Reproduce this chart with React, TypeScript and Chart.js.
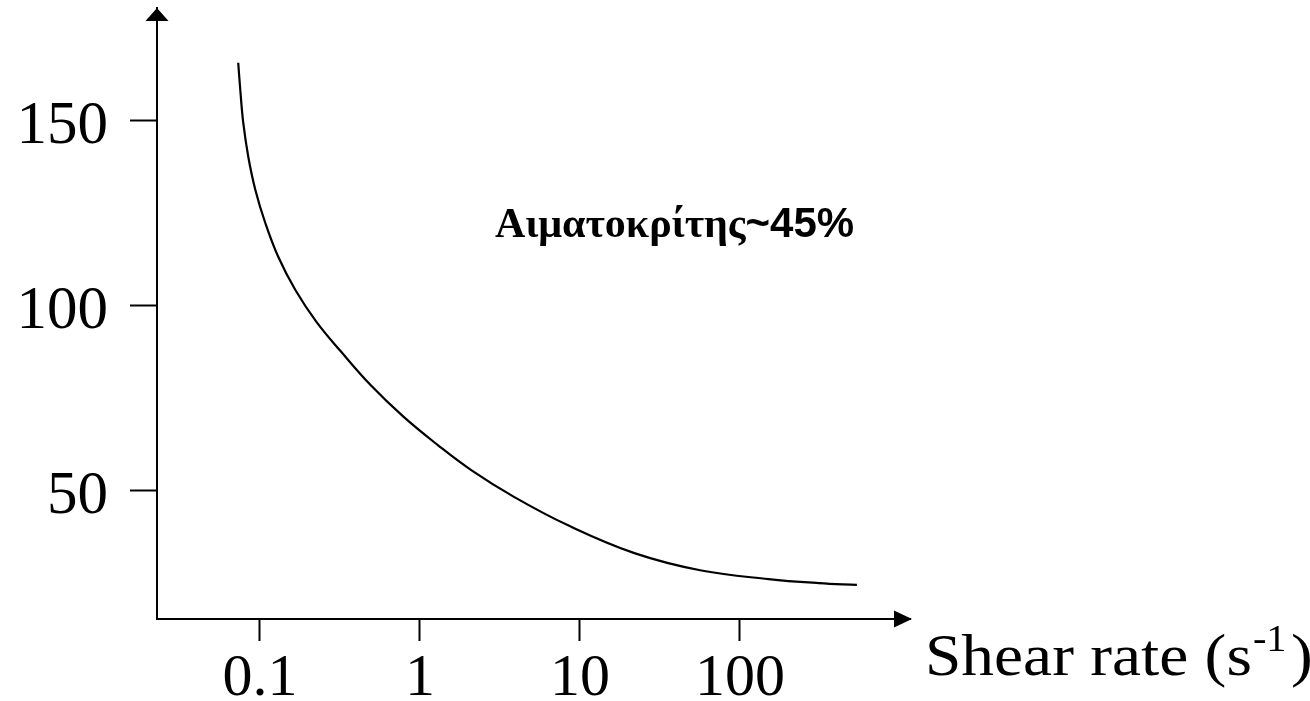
import React, { useEffect, useRef } from 'react';
import { Chart, registerables } from 'chart.js';

Chart.register(...registerables);

// Shear rate (s^-1) and viscosity values
const shearRate = [0.0732, 0.0754, 0.0787, 0.0846, 0.0936, 0.1081, 0.1304, 0.1666, 0.2256, 0.3191, 0.4916, 0.7916, 1.293, 2.081, 3.87, 8.43, 21.9, 57.4, 151, 311, 538];
const viscosity = [165.7, 158.4, 149.5, 140.3, 131.4, 122.4, 113.2, 104.3, 95.7, 87.8, 78.6, 70.0, 62.4, 55.7, 48.4, 40.7, 33.2, 28.5, 26.2, 25.1, 24.6];

const xTickValues = [0.1, 1, 10, 100];
const xTickLabels = ['0.1', '1', '10', '100'];
const yTickValues = [50, 100, 150];
const yTickLabels = ['50', '100', '150'];

const xAxisTitle = 'Shear rate (s';
const xAxisTitleSup = '-1';
const xAxisTitleEnd = ')';
const annotationSerif = 'Αιματοκρίτης';
const annotationSans = '~45%';
const annotationAt = { x: 39, y: 122 };

const decorPlugin = {
  id: 'decor',
  afterDraw(chart: any) {
    const { ctx, chartArea: a, scales } = chart;
    ctx.save();
    ctx.fillStyle = '#000';
    // y arrow head
    ctx.beginPath();
    ctx.moveTo(a.left, a.top);
    ctx.lineTo(a.left - 11.5, a.top + 13);
    ctx.lineTo(a.left + 11.5, a.top + 13);
    ctx.closePath();
    ctx.fill();
    // x arrow head
    ctx.beginPath();
    ctx.moveTo(a.right + 2, a.bottom);
    ctx.lineTo(a.right - 16, a.bottom - 8.5);
    ctx.lineTo(a.right - 16, a.bottom + 8.5);
    ctx.closePath();
    ctx.fill();

    // x axis title to the right of the axis (slightly widened like the scan)
    ctx.save();
    ctx.translate(a.right + 15, a.bottom + 56);
    ctx.scale(1.09, 1);
    ctx.textBaseline = 'alphabetic';
    ctx.textAlign = 'left';
    let tx = 0;
    ctx.font = '60px "Liberation Serif"';
    ctx.fillText(xAxisTitle, tx, 0);
    tx += ctx.measureText(xAxisTitle).width + 1;
    ctx.font = '37px "Liberation Serif"';
    ctx.fillText(xAxisTitleSup, tx, -24);
    tx += ctx.measureText(xAxisTitleSup).width + 4;
    ctx.font = '60px "Liberation Serif"';
    ctx.fillText(xAxisTitleEnd, tx, 0);
    ctx.restore();

    // annotation
    const cx = scales.x.getPixelForValue(annotationAt.x);
    const cy = scales.y.getPixelForValue(annotationAt.y);
    ctx.font = 'bold 42px "Liberation Serif"';
    const w1 = ctx.measureText(annotationSerif).width;
    ctx.font = 'bold 42px "Liberation Sans"';
    const w2 = ctx.measureText(annotationSans).width;
    const sx = cx - (w1 + w2) / 2;
    ctx.textBaseline = 'alphabetic';
    ctx.textAlign = 'left';
    ctx.font = 'bold 42px "Liberation Serif"';
    ctx.fillText(annotationSerif, sx, cy + 13);
    ctx.font = 'bold 42px "Liberation Sans"';
    ctx.fillText(annotationSans, sx + w1, cy + 13);
    ctx.restore();
  },
};

export default function App() {
  const ref = useRef<HTMLCanvasElement>(null);
  useEffect(() => {
    document.body.style.margin = '0';
    const canvas = ref.current!;
    const chart = new Chart(canvas, {
      type: 'line',
      data: {
        datasets: [
          {
            data: shearRate.map((x, i) => ({ x, y: viscosity[i] })),
            borderColor: '#000',
            borderWidth: 2.2,
            pointRadius: 0,
            fill: false,
            tension: 0.4,
          },
        ],
      },
      options: {
        responsive: false,
        animation: false,
        events: [],
        layout: { autoPadding: false, padding: { top: 8, right: 400, left: 0, bottom: 0 } },
        plugins: { legend: { display: false }, tooltip: { enabled: false } },
        scales: {
          x: {
            type: 'logarithmic',
            min: 0.02275,
            max: 1155,
            afterBuildTicks: (s: any) => {
              s.ticks = xTickValues.map((v) => ({ value: v }));
            },
            afterFit: (s: any) => {
              s.height = 82;
              s.paddingLeft = 0;
              s.paddingRight = 0;
            },
            grid: {
              drawOnChartArea: false,
              drawTicks: true,
              tickLength: 22,
              tickWidth: 2,
              tickColor: '#000',
            },
            border: { display: true, color: '#000', width: 2 },
            ticks: {
              autoSkip: false,
              maxRotation: 0,
              color: '#000',
              padding: 2,
              font: { family: 'Liberation Serif', size: 60 },
              callback: (v: any) => {
                const i = xTickValues.indexOf(Number(v));
                return i >= 0 ? xTickLabels[i] : '';
              },
            },
          },
          y: {
            type: 'linear',
            min: 15.4,
            max: 180.5,
            afterBuildTicks: (s: any) => {
              s.ticks = yTickValues.map((v) => ({ value: v }));
            },
            afterFit: (s: any) => {
              s.width = 157;
              s.paddingTop = 0;
              s.paddingBottom = 0;
            },
            grid: {
              drawOnChartArea: false,
              drawTicks: true,
              tickLength: 27,
              tickWidth: 2,
              tickColor: '#000',
            },
            border: { display: true, color: '#000', width: 2 },
            ticks: {
              color: '#000',
              padding: 22,
              labelOffset: 6,
              font: { family: 'Liberation Serif', size: 61 },
              callback: (v: any) => {
                const i = yTickValues.indexOf(Number(v));
                return i >= 0 ? yTickLabels[i] : '';
              },
            },
          },
        },
      },
      plugins: [decorPlugin],
    } as any);
    return () => chart.destroy();
  }, []);
  return (
    <div style={{ width: 1310, height: 701, background: '#fff' }}>
      <canvas ref={ref} width={1310} height={701} style={{ display: 'block' }} />
    </div>
  );
}
